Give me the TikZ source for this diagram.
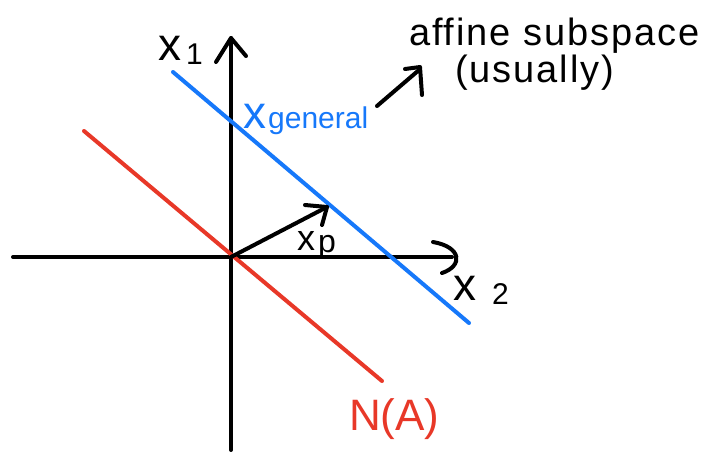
\documentclass[tikz,border=0pt]{standalone}
\usepackage{fontspec}
\setmainfont{Liberation Sans}
\usetikzlibrary{arrows.meta}
\definecolor{lineblue}{RGB}{22,120,250}
\definecolor{linered}{RGB}{232,56,40}
\tikzset{
  axis/.style={line width=4pt, line cap=round, black},
  hand/.style={line width=4pt, line cap=round, line join=round},
  lbl/.style={inner sep=0pt, anchor=base west},
}
\begin{document}
\begin{tikzpicture}[x=1pt,y=-1pt]
\useasboundingbox (0,0) rectangle (714,451);
% named points
\coordinate (O) at (231,257);
\coordinate (L) at (13,257);
\coordinate (R) at (452,257);
\coordinate (B) at (231,450);
\coordinate (T) at (231,38);
\coordinate (Ta) at (216,62);
\coordinate (Tb) at (246,56);
\coordinate (Ra) at (433,242);
\coordinate (Rb) at (442,273);
\coordinate (P) at (327,207);
\coordinate (Pa) at (305,205);
\coordinate (Pb) at (322,225);
\coordinate (B1) at (173,72);
\coordinate (B2) at (469,323);
\coordinate (R1) at (84,131);
\coordinate (R2) at (382,381);
\coordinate (A1) at (377,106);
\coordinate (A2) at (419,70);
\coordinate (Aa) at (405,69);
\coordinate (Ab) at (422,95);
% axes
\draw[axis] (L) -- (R);
\draw[axis] (B) -- (T);
\draw[axis, line join=round] (Ta) -- (T) -- (Tb);
\draw[axis] (Ra) .. controls (462,247) and (463,266) .. (Rb);
% lines
\draw[hand, linered] (R1) -- (R2);
\draw[hand, lineblue] (B1) -- (B2);
% vector x_p
\draw[hand] (O) -- (P);
\draw[hand] (Pa) -- (P) -- (Pb);
% annotation arrow
\draw[hand] (A1) -- (A2);
\draw[hand] (Aa) -- (420,67) -- (Ab);
% labels
\node[lbl, font=\fontsize{46}{46}\selectfont] (x1) at (158,60) {x};
\node[lbl, font=\fontsize{30}{30}\selectfont] (x1s) at (186,64) {1};
\node[lbl, font=\fontsize{46}{46}\selectfont] (x2) at (453,300) {x};
\node[lbl, font=\fontsize{30}{30}\selectfont] (x2s) at (492,304) {2};
\node[lbl, font=\fontsize{36}{36}\selectfont] (xp) at (297,250) {x};
\node[lbl, font=\fontsize{32}{32}\selectfont] (xps) at (318,252) {p};
\node[lbl, font=\fontsize{46}{46}\selectfont, text=lineblue] (xg) at (243,128) {x};
\node[lbl, font=\fontsize{30}{30}\selectfont, text=lineblue] (xgs) at (268,128) {general};
\node[lbl, font=\fontsize{44}{44}\selectfont, text=linered] (na) at (349,430) {N(A)};
\node[lbl, font=\fontsize{38}{38}\selectfont\addfontfeatures{LetterSpace=5}] (aff) at (409,45) {affine subspace};
\node[lbl, font=\fontsize{38}{38}\selectfont\addfontfeatures{LetterSpace=5}] (usu) at (455,82) {(usually)};
\end{tikzpicture}
\end{document}
